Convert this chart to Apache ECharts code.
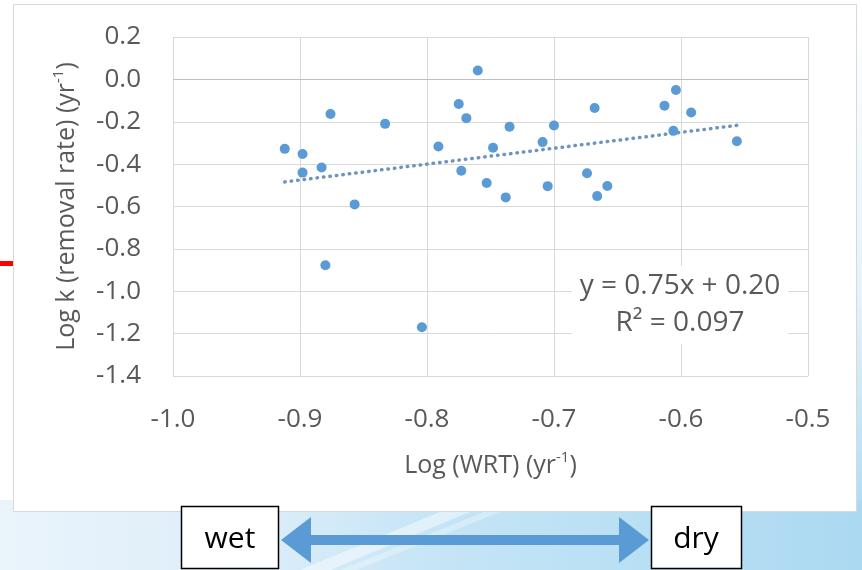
<!DOCTYPE html>
<html>
<head>
<meta charset="utf-8">
<script src="https://cdn.jsdelivr.net/npm/echarts@6/dist/echarts.min.js"></script>
<style>
  html, body { margin: 0; padding: 0; background: #fff; }
  #chart { width: 862px; height: 570px; }
</style>
</head>
<body>
<div id="chart"></div>
<script>
  // Log (WRT) values
  var logWrt = [-0.912, -0.898, -0.898, -0.883, -0.876, -0.857, -0.880, -0.833, -0.804, -0.791,
                -0.775, -0.769, -0.773, -0.760, -0.753, -0.748, -0.738, -0.735, -0.709, -0.705,
                -0.700, -0.674, -0.668, -0.666, -0.658, -0.613, -0.604, -0.606, -0.592, -0.556];
  // Log k (removal rate) values
  var logK = [-0.328, -0.352, -0.440, -0.416, -0.163, -0.590, -0.877, -0.210, -1.170, -0.317,
              -0.116, -0.183, -0.431, 0.042, -0.489, -0.323, -0.557, -0.224, -0.296, -0.504,
              -0.218, -0.443, -0.135, -0.551, -0.503, -0.124, -0.050, -0.243, -0.156, -0.292];
  // end points of the linear trendline
  var trendX = [-0.912, -0.556];
  var trendY = [-0.484, -0.217];
  var equationLines = ['y = 0.75x + 0.20', 'R² = 0.097'];
  var xTitle = 'Log (WRT) (yr';
  var yTitle = 'Log k (removal rate) (yr';

  var points = [];
  for (var i = 0; i < logWrt.length; i++) {
    points.push([logWrt[i], logK[i]]);
  }
  var trend = [[trendX[0], trendY[0]], [trendX[1], trendY[1]]];

  var font = '"Open Sans", sans-serif';
  var grey = '#595959';
  var blue = '#5B9BD5';

  var chart = echarts.init(document.getElementById('chart'));
  var option = {
    backgroundColor: 'transparent',
    animation: false,
    textStyle: { fontFamily: font },
    grid: { left: 173, right: 54, top: 37, bottom: 194 },
    xAxis: {
      type: 'value',
      min: -1.0,
      max: -0.5,
      interval: 0.1,
      name: '{a|' + xTitle + '}{s|-1}{a|)}',
      nameLocation: 'middle',
      nameGap: 74,
      nameTextStyle: {
        rich: {
          a: { fontFamily: font, fontSize: 25, color: grey, lineHeight: 32 },
          s: { fontFamily: font, fontSize: 15, color: grey, lineHeight: 20, verticalAlign: 'top' }
        }
      },
      axisLine: { show: false },
      axisTick: { show: false },
      axisLabel: {
        margin: 31,
        fontSize: 26,
        color: grey,
        fontFamily: font,
        formatter: function (v) { return v.toFixed(1); }
      },
      splitLine: { show: true, lineStyle: { color: '#d9d9d9', width: 1 } }
    },
    yAxis: {
      type: 'value',
      min: -1.4,
      max: 0.2,
      interval: 0.2,
      name: '{a|' + yTitle + '}{s|-1}{a|)}',
      nameLocation: 'middle',
      nameRotate: 90,
      nameGap: 90,
      nameTextStyle: {
        rich: {
          a: { fontFamily: font, fontSize: 25, color: grey, lineHeight: 32 },
          s: { fontFamily: font, fontSize: 15, color: grey, lineHeight: 20, verticalAlign: 'top' }
        }
      },
      axisLine: { show: false },
      axisTick: { show: false },
      axisLabel: {
        margin: 32,
        fontSize: 26,
        color: grey,
        fontFamily: font,
        formatter: function (v) { return v.toFixed(1); }
      },
      splitLine: { show: true, lineStyle: { color: '#d9d9d9', width: 1 } }
    },
    series: [
      {
        type: 'scatter',
        data: points,
        symbolSize: 10,
        itemStyle: { color: blue, opacity: 1 },
        z: 4,
        markLine: {
          silent: true,
          symbol: 'none',
          label: { show: false },
          lineStyle: { color: '#bfbfbf', width: 1, type: 'solid' },
          data: [{ yAxis: 0 }]
        }
      },
      {
        type: 'line',
        data: trend,
        showSymbol: false,
        symbol: 'none',
        lineStyle: { color: '#6f93bf', width: 3.5, type: [0.5, 6], cap: 'round' },
        z: 3
      }
    ],
    graphic: [
      // slide background below the chart box
      {
        type: 'rect', z: -10, silent: true,
        shape: { x: 0, y: 500, width: 862, height: 70 },
        style: {
          fill: new echarts.graphic.LinearGradient(0, 0, 1, 0, [
            { offset: 0, color: '#eaf4fb' },
            { offset: 0.3, color: '#dcedf9' },
            { offset: 0.5, color: '#c6e5f6' },
            { offset: 1, color: '#abd9f1' }
          ])
        }
      },
      {
        type: 'rect', z: -10, silent: true,
        shape: { x: 850, y: 0, width: 12, height: 500 },
        style: {
          fill: new echarts.graphic.LinearGradient(0, 0, 0, 1, [
            { offset: 0, color: '#ffffff' },
            { offset: 0.6, color: '#e4f2fb' },
            { offset: 1, color: '#b3ddf3' }
          ])
        }
      },
      {
        type: 'polygon', z: -9, silent: true,
        shape: { points: [[300, 570], [330, 570], [470, 512], [440, 512]] },
        style: { fill: 'rgba(255,255,255,0.45)' }
      },
      {
        type: 'polygon', z: -9, silent: true,
        shape: { points: [[340, 570], [356, 570], [500, 512], [484, 512]] },
        style: { fill: 'rgba(255,255,255,0.3)' }
      },
      // chart area box
      {
        type: 'rect', z: -5, silent: true,
        shape: { x: 13.5, y: 4.5, width: 843, height: 507 },
        style: { fill: '#fff', stroke: '#d9d9d9', lineWidth: 1 }
      },
      // red marker on the left edge
      {
        type: 'rect', z: 10, silent: true,
        shape: { x: 0, y: 261, width: 13, height: 5 },
        style: { fill: '#ff0000' }
      },
      // trendline equation
      {
        type: 'text', z: 20, silent: true,
        x: 680, y: 305,
        style: {
          text: equationLines.join('\n'),
          fontFamily: font,
          fontSize: 28,
          lineHeight: 37,
          fill: grey,
          align: 'center',
          verticalAlign: 'middle',
          backgroundColor: '#fff',
          padding: [2, 8]
        }
      },
      // wet / dry arrow
      {
        type: 'polygon', z: 20, silent: true,
        shape: {
          points: [[281, 540], [311, 517], [311, 535], [619, 535], [619, 517],
                   [649, 540], [619, 563], [619, 545], [311, 545], [311, 563]]
        },
        style: { fill: blue }
      },
      {
        type: 'rect', z: 20, silent: true,
        shape: { x: 181.5, y: 506.5, width: 97, height: 62 },
        style: { fill: '#fff', stroke: '#000', lineWidth: 1.5 }
      },
      {
        type: 'text', z: 21, silent: true,
        x: 230, y: 539,
        style: { text: 'wet', fontFamily: font, fontSize: 30, fill: '#000', align: 'center', verticalAlign: 'middle' }
      },
      {
        type: 'rect', z: 20, silent: true,
        shape: { x: 651.5, y: 506.5, width: 90, height: 62 },
        style: { fill: '#fff', stroke: '#000', lineWidth: 1.5 }
      },
      {
        type: 'text', z: 21, silent: true,
        x: 696, y: 539,
        style: { text: 'dry', fontFamily: font, fontSize: 30, fill: '#000', align: 'center', verticalAlign: 'middle' }
      }
    ]
  };
  chart.setOption(option);
</script>
</body>
</html>
